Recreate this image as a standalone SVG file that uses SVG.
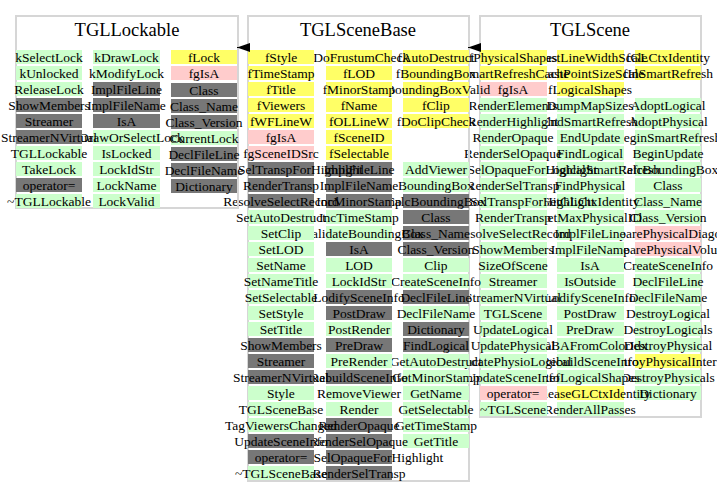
<svg xmlns="http://www.w3.org/2000/svg" width="717" height="496" viewBox="0 0 717 496">
<defs>
<style>
.box{fill:none;stroke:#d6d6d6;stroke-width:2}
.Y{fill:#ffff66}.P{fill:#ffcccc}.G{fill:#ccffcc}.D{fill:#777777}
text{font-family:"Liberation Serif","Times New Roman",serif;fill:#000;text-anchor:middle}
.t{font-size:13.5px}
.h{font-size:18.5px}
</style>
<marker id="inh" markerUnits="userSpaceOnUse" markerWidth="13" markerHeight="9" viewBox="0 0 13 9" refX="13" refY="4.5" orient="auto">
<path d="M0,0 L13,4.5 L0,9 z" fill="#000"/>
</marker>
</defs>
<rect width="717" height="496" fill="#fff"/>

<g id="TGLScene">
<rect class="box" x="480" y="16" width="221" height="401"/>
<text class="h" x="590" y="36">TGLScene</text>
<rect class="Y" x="635" y="50" width="66" height="14"/><text class="t" x="668" y="62">fGLCtxIdentity</text>
<rect class="Y" x="635" y="66" width="66" height="14"/><text class="t" x="668" y="78">fInSmartRefresh</text>
<rect class="G" x="635" y="98" width="66" height="14"/><text class="t" x="668" y="110">AdoptLogical</text>
<rect class="G" x="635" y="114" width="66" height="14"/><text class="t" x="668" y="126">AdoptPhysical</text>
<rect class="G" x="635" y="130" width="66" height="14"/><text class="t" x="668" y="142">BeginSmartRefresh</text>
<rect class="G" x="635" y="146" width="66" height="14"/><text class="t" x="668" y="158">BeginUpdate</text>
<rect class="G" x="635" y="162" width="66" height="14"/><text class="t" x="668" y="174">CalcBoundingBox</text>
<rect class="G" x="635" y="178" width="66" height="14"/><text class="t" x="668" y="190">Class</text>
<rect class="G" x="635" y="194" width="66" height="14"/><text class="t" x="668" y="206">Class_Name</text>
<rect class="G" x="635" y="210" width="66" height="14"/><text class="t" x="668" y="222">Class_Version</text>
<rect class="P" x="635" y="226" width="66" height="14"/><text class="t" x="668" y="238">ComparePhysicalDiagonals</text>
<rect class="P" x="635" y="242" width="66" height="14"/><text class="t" x="668" y="254">ComparePhysicalVolumes</text>
<rect class="G" x="635" y="258" width="66" height="14"/><text class="t" x="668" y="270">CreateSceneInfo</text>
<rect class="G" x="635" y="274" width="66" height="14"/><text class="t" x="668" y="286">DeclFileLine</text>
<rect class="G" x="635" y="290" width="66" height="14"/><text class="t" x="668" y="302">DeclFileName</text>
<rect class="G" x="635" y="306" width="66" height="14"/><text class="t" x="668" y="318">DestroyLogical</text>
<rect class="G" x="635" y="322" width="66" height="14"/><text class="t" x="668" y="334">DestroyLogicals</text>
<rect class="G" x="635" y="338" width="66" height="14"/><text class="t" x="668" y="350">DestroyPhysical</text>
<rect class="Y" x="635" y="354" width="66" height="14"/><text class="t" x="668" y="366">DestroyPhysicalInternal</text>
<rect class="G" x="635" y="370" width="66" height="14"/><text class="t" x="668" y="382">DestroyPhysicals</text>
<rect class="G" x="635" y="386" width="66" height="14"/><text class="t" x="668" y="398">Dictionary</text>

<rect class="Y" x="557" y="50" width="67" height="14"/><text class="t" x="590" y="62">fLastLineWidthScale</text>
<rect class="Y" x="557" y="66" width="67" height="14"/><text class="t" x="590" y="78">fLastPointSizeScale</text>
<rect class="Y" x="557" y="82" width="67" height="14"/><text class="t" x="590" y="94">fLogicalShapes</text>
<rect class="G" x="557" y="98" width="67" height="14"/><text class="t" x="590" y="110">DumpMapSizes</text>
<rect class="G" x="557" y="114" width="67" height="14"/><text class="t" x="590" y="126">EndSmartRefresh</text>
<rect class="G" x="557" y="130" width="67" height="14"/><text class="t" x="590" y="142">EndUpdate</text>
<rect class="G" x="557" y="146" width="67" height="14"/><text class="t" x="590" y="158">FindLogical</text>
<rect class="G" x="557" y="162" width="67" height="14"/><text class="t" x="590" y="174">FindLogicalSmartRefresh</text>
<rect class="G" x="557" y="178" width="67" height="14"/><text class="t" x="590" y="190">FindPhysical</text>
<rect class="G" x="557" y="194" width="67" height="14"/><text class="t" x="590" y="206">GetGLCtxIdentity</text>
<rect class="G" x="557" y="210" width="67" height="14"/><text class="t" x="590" y="222">GetMaxPhysicalID</text>
<rect class="G" x="557" y="226" width="67" height="14"/><text class="t" x="590" y="238">ImplFileLine</text>
<rect class="G" x="557" y="242" width="67" height="14"/><text class="t" x="590" y="254">ImplFileName</text>
<rect class="G" x="557" y="258" width="67" height="14"/><text class="t" x="590" y="270">IsA</text>
<rect class="G" x="557" y="274" width="67" height="14"/><text class="t" x="590" y="286">IsOutside</text>
<rect class="G" x="557" y="290" width="67" height="14"/><text class="t" x="590" y="302">LodifySceneInfo</text>
<rect class="G" x="557" y="306" width="67" height="14"/><text class="t" x="590" y="318">PostDraw</text>
<rect class="G" x="557" y="322" width="67" height="14"/><text class="t" x="590" y="334">PreDraw</text>
<rect class="G" x="557" y="338" width="67" height="14"/><text class="t" x="590" y="350">RGBAFromColorIdx</text>
<rect class="G" x="557" y="354" width="67" height="14"/><text class="t" x="590" y="366">RebuildSceneInfo</text>
<rect class="G" x="557" y="370" width="67" height="14"/><text class="t" x="590" y="382">RefLogicalShapes</text>
<rect class="Y" x="557" y="386" width="67" height="14"/><text class="t" x="590" y="398">ReleaseGLCtxIdentity</text>
<rect class="G" x="557" y="402" width="67" height="14"/><text class="t" x="590" y="414">RenderAllPasses</text>

<rect class="Y" x="480" y="50" width="67" height="14"/><text class="t" x="513" y="62">fPhysicalShapes</text>
<rect class="Y" x="480" y="66" width="67" height="14"/><text class="t" x="513" y="78">fSmartRefreshCache</text>
<rect class="P" x="480" y="82" width="67" height="14"/><text class="t" x="513" y="94">fgIsA</text>
<rect class="G" x="480" y="98" width="67" height="14"/><text class="t" x="513" y="110">RenderElements</text>
<rect class="G" x="480" y="114" width="67" height="14"/><text class="t" x="513" y="126">RenderHighlight</text>
<rect class="G" x="480" y="130" width="67" height="14"/><text class="t" x="513" y="142">RenderOpaque</text>
<rect class="G" x="480" y="146" width="67" height="14"/><text class="t" x="513" y="158">RenderSelOpaque</text>
<rect class="G" x="480" y="162" width="67" height="14"/><text class="t" x="513" y="174">RenderSelOpaqueForHighlight</text>
<rect class="G" x="480" y="178" width="67" height="14"/><text class="t" x="513" y="190">RenderSelTransp</text>
<rect class="G" x="480" y="194" width="67" height="14"/><text class="t" x="513" y="206">RenderSelTranspForHighlight</text>
<rect class="G" x="480" y="210" width="67" height="14"/><text class="t" x="513" y="222">RenderTransp</text>
<rect class="G" x="480" y="226" width="67" height="14"/><text class="t" x="513" y="238">ResolveSelectRecord</text>
<rect class="G" x="480" y="242" width="67" height="14"/><text class="t" x="513" y="254">ShowMembers</text>
<rect class="G" x="480" y="258" width="67" height="14"/><text class="t" x="513" y="270">SizeOfScene</text>
<rect class="G" x="480" y="274" width="67" height="14"/><text class="t" x="513" y="286">Streamer</text>
<rect class="G" x="480" y="290" width="67" height="14"/><text class="t" x="513" y="302">StreamerNVirtual</text>
<rect class="G" x="480" y="306" width="67" height="14"/><text class="t" x="513" y="318">TGLScene</text>
<rect class="G" x="480" y="322" width="67" height="14"/><text class="t" x="513" y="334">UpdateLogical</text>
<rect class="G" x="480" y="338" width="67" height="14"/><text class="t" x="513" y="350">UpdatePhysical</text>
<rect class="G" x="480" y="354" width="67" height="14"/><text class="t" x="513" y="366">UpdatePhysioLogical</text>
<rect class="G" x="480" y="370" width="67" height="14"/><text class="t" x="513" y="382">UpdateSceneInfo</text>
<rect class="P" x="480" y="386" width="67" height="14"/><text class="t" x="513" y="398">operator=</text>
<rect class="G" x="480" y="402" width="67" height="14"/><text class="t" x="513" y="414">~TGLScene</text>
</g>

<g id="TGLSceneBase">
<rect class="box" x="248" y="16" width="221" height="465"/>
<text class="h" x="358" y="36">TGLSceneBase</text>
<rect class="Y" x="403" y="50" width="66" height="14"/><text class="t" x="436" y="62">fAutoDestruct</text>
<rect class="Y" x="403" y="66" width="66" height="14"/><text class="t" x="436" y="78">fBoundingBox</text>
<rect class="Y" x="403" y="82" width="66" height="14"/><text class="t" x="436" y="94">fBoundingBoxValid</text>
<rect class="Y" x="403" y="98" width="66" height="14"/><text class="t" x="436" y="110">fClip</text>
<rect class="Y" x="403" y="114" width="66" height="14"/><text class="t" x="436" y="126">fDoClipCheck</text>
<rect class="G" x="403" y="162" width="66" height="14"/><text class="t" x="436" y="174">AddViewer</text>
<rect class="G" x="403" y="178" width="66" height="14"/><text class="t" x="436" y="190">BoundingBox</text>
<rect class="D" x="403" y="194" width="66" height="14"/><text class="t" x="436" y="206">CalcBoundingBox</text>
<rect class="D" x="403" y="210" width="66" height="14"/><text class="t" x="436" y="222">Class</text>
<rect class="D" x="403" y="226" width="66" height="14"/><text class="t" x="436" y="238">Class_Name</text>
<rect class="D" x="403" y="242" width="66" height="14"/><text class="t" x="436" y="254">Class_Version</text>
<rect class="G" x="403" y="258" width="66" height="14"/><text class="t" x="436" y="270">Clip</text>
<rect class="G" x="403" y="274" width="66" height="14"/><text class="t" x="436" y="286">CreateSceneInfo</text>
<rect class="D" x="403" y="290" width="66" height="14"/><text class="t" x="436" y="302">DeclFileLine</text>
<rect class="G" x="403" y="306" width="66" height="14"/><text class="t" x="436" y="318">DeclFileName</text>
<rect class="D" x="403" y="322" width="66" height="14"/><text class="t" x="436" y="334">Dictionary</text>
<rect class="D" x="403" y="338" width="66" height="14"/><text class="t" x="436" y="350">FindLogical</text>
<rect class="G" x="403" y="354" width="66" height="14"/><text class="t" x="436" y="366">GetAutoDestruct</text>
<rect class="G" x="403" y="370" width="66" height="14"/><text class="t" x="436" y="382">GetMinorStamp</text>
<rect class="G" x="403" y="386" width="66" height="14"/><text class="t" x="436" y="398">GetName</text>
<rect class="G" x="403" y="402" width="66" height="14"/><text class="t" x="436" y="414">GetSelectable</text>
<rect class="G" x="403" y="418" width="66" height="14"/><text class="t" x="436" y="430">GetTimeStamp</text>
<rect class="G" x="403" y="434" width="66" height="14"/><text class="t" x="436" y="446">GetTitle</text>

<rect class="Y" x="326" y="50" width="66" height="14"/><text class="t" x="359" y="62">fDoFrustumCheck</text>
<rect class="Y" x="326" y="66" width="66" height="14"/><text class="t" x="359" y="78">fLOD</text>
<rect class="Y" x="326" y="82" width="66" height="14"/><text class="t" x="359" y="94">fMinorStamp</text>
<rect class="Y" x="326" y="98" width="66" height="14"/><text class="t" x="359" y="110">fName</text>
<rect class="Y" x="326" y="114" width="66" height="14"/><text class="t" x="359" y="126">fOLLineW</text>
<rect class="Y" x="326" y="130" width="66" height="14"/><text class="t" x="359" y="142">fSceneID</text>
<rect class="Y" x="326" y="146" width="66" height="14"/><text class="t" x="359" y="158">fSelectable</text>
<rect class="D" x="326" y="162" width="66" height="14"/><text class="t" x="359" y="174">ImplFileLine</text>
<rect class="D" x="326" y="178" width="66" height="14"/><text class="t" x="359" y="190">ImplFileName</text>
<rect class="D" x="326" y="194" width="66" height="14"/><text class="t" x="359" y="206">IncMinorStamp</text>
<rect class="G" x="326" y="210" width="66" height="14"/><text class="t" x="359" y="222">IncTimeStamp</text>
<rect class="G" x="326" y="226" width="66" height="14"/><text class="t" x="359" y="238">InvalidateBoundingBox</text>
<rect class="D" x="326" y="242" width="66" height="14"/><text class="t" x="359" y="254">IsA</text>
<rect class="G" x="326" y="258" width="66" height="14"/><text class="t" x="359" y="270">LOD</text>
<rect class="G" x="326" y="274" width="66" height="14"/><text class="t" x="359" y="286">LockIdStr</text>
<rect class="D" x="326" y="290" width="66" height="14"/><text class="t" x="359" y="302">LodifySceneInfo</text>
<rect class="D" x="326" y="306" width="66" height="14"/><text class="t" x="359" y="318">PostDraw</text>
<rect class="G" x="326" y="322" width="66" height="14"/><text class="t" x="359" y="334">PostRender</text>
<rect class="D" x="326" y="338" width="66" height="14"/><text class="t" x="359" y="350">PreDraw</text>
<rect class="G" x="326" y="354" width="66" height="14"/><text class="t" x="359" y="366">PreRender</text>
<rect class="D" x="326" y="370" width="66" height="14"/><text class="t" x="359" y="382">RebuildSceneInfo</text>
<rect class="G" x="326" y="386" width="66" height="14"/><text class="t" x="359" y="398">RemoveViewer</text>
<rect class="G" x="326" y="402" width="66" height="14"/><text class="t" x="359" y="414">Render</text>
<rect class="D" x="326" y="418" width="66" height="14"/><text class="t" x="359" y="430">RenderOpaque</text>
<rect class="D" x="326" y="434" width="66" height="14"/><text class="t" x="359" y="446">RenderSelOpaque</text>
<rect class="D" x="326" y="450" width="66" height="14"/><text class="t" x="359" y="462">RenderSelOpaqueForHighlight</text>
<rect class="D" x="326" y="466" width="66" height="14"/><text class="t" x="359" y="478">RenderSelTransp</text>

<rect class="Y" x="248" y="50" width="66" height="14"/><text class="t" x="281" y="62">fStyle</text>
<rect class="Y" x="248" y="66" width="66" height="14"/><text class="t" x="281" y="78">fTimeStamp</text>
<rect class="Y" x="248" y="82" width="66" height="14"/><text class="t" x="281" y="94">fTitle</text>
<rect class="Y" x="248" y="98" width="66" height="14"/><text class="t" x="281" y="110">fViewers</text>
<rect class="Y" x="248" y="114" width="66" height="14"/><text class="t" x="281" y="126">fWFLineW</text>
<rect class="P" x="248" y="130" width="66" height="14"/><text class="t" x="281" y="142">fgIsA</text>
<rect class="P" x="248" y="146" width="66" height="14"/><text class="t" x="281" y="158">fgSceneIDSrc</text>
<rect class="D" x="248" y="162" width="66" height="14"/><text class="t" x="281" y="174">RenderSelTranspForHighlight</text>
<rect class="D" x="248" y="178" width="66" height="14"/><text class="t" x="281" y="190">RenderTransp</text>
<rect class="D" x="248" y="194" width="66" height="14"/><text class="t" x="281" y="206">ResolveSelectRecord</text>
<rect class="G" x="248" y="210" width="66" height="14"/><text class="t" x="281" y="222">SetAutoDestruct</text>
<rect class="G" x="248" y="226" width="66" height="14"/><text class="t" x="281" y="238">SetClip</text>
<rect class="G" x="248" y="242" width="66" height="14"/><text class="t" x="281" y="254">SetLOD</text>
<rect class="G" x="248" y="258" width="66" height="14"/><text class="t" x="281" y="270">SetName</text>
<rect class="G" x="248" y="274" width="66" height="14"/><text class="t" x="281" y="286">SetNameTitle</text>
<rect class="G" x="248" y="290" width="66" height="14"/><text class="t" x="281" y="302">SetSelectable</text>
<rect class="G" x="248" y="306" width="66" height="14"/><text class="t" x="281" y="318">SetStyle</text>
<rect class="G" x="248" y="322" width="66" height="14"/><text class="t" x="281" y="334">SetTitle</text>
<rect class="D" x="248" y="338" width="66" height="14"/><text class="t" x="281" y="350">ShowMembers</text>
<rect class="D" x="248" y="354" width="66" height="14"/><text class="t" x="281" y="366">Streamer</text>
<rect class="D" x="248" y="370" width="66" height="14"/><text class="t" x="281" y="382">StreamerNVirtual</text>
<rect class="G" x="248" y="386" width="66" height="14"/><text class="t" x="281" y="398">Style</text>
<rect class="G" x="248" y="402" width="66" height="14"/><text class="t" x="281" y="414">TGLSceneBase</text>
<rect class="G" x="248" y="418" width="66" height="14"/><text class="t" x="281" y="430">TagViewersChanged</text>
<rect class="D" x="248" y="434" width="66" height="14"/><text class="t" x="281" y="446">UpdateSceneInfo</text>
<rect class="D" x="248" y="450" width="66" height="14"/><text class="t" x="281" y="462">operator=</text>
<rect class="G" x="248" y="466" width="66" height="14"/><text class="t" x="281" y="478">~TGLSceneBase</text>
</g>

<g id="TGLLockable">
<rect class="box" x="16" y="16" width="222" height="192"/>
<text class="h" x="127" y="36">TGLLockable</text>
<rect class="Y" x="171" y="50" width="66" height="14"/><text class="t" x="204" y="62">fLock</text>
<rect class="P" x="171" y="66" width="66" height="14"/><text class="t" x="204" y="78">fgIsA</text>
<rect class="D" x="171" y="83" width="66" height="14"/><text class="t" x="204" y="95">Class</text>
<rect class="D" x="171" y="99" width="66" height="14"/><text class="t" x="204" y="111">Class_Name</text>
<rect class="D" x="171" y="115" width="66" height="14"/><text class="t" x="204" y="127">Class_Version</text>
<rect class="G" x="171" y="131" width="66" height="14"/><text class="t" x="204" y="143">CurrentLock</text>
<rect class="D" x="171" y="147" width="66" height="14"/><text class="t" x="204" y="159">DeclFileLine</text>
<rect class="D" x="171" y="163" width="66" height="14"/><text class="t" x="204" y="175">DeclFileName</text>
<rect class="D" x="171" y="179" width="66" height="14"/><text class="t" x="204" y="191">Dictionary</text>

<rect class="G" x="93" y="50" width="67" height="14"/><text class="t" x="126.5" y="62">kDrawLock</text>
<rect class="G" x="93" y="66" width="67" height="14"/><text class="t" x="126.5" y="78">kModifyLock</text>
<rect class="D" x="93" y="82" width="67" height="14"/><text class="t" x="126.5" y="94">ImplFileLine</text>
<rect class="D" x="93" y="98" width="67" height="14"/><text class="t" x="126.5" y="110">ImplFileName</text>
<rect class="D" x="93" y="114" width="67" height="14"/><text class="t" x="126.5" y="126">IsA</text>
<rect class="G" x="93" y="130" width="67" height="14"/><text class="t" x="126.5" y="142">IsDrawOrSelectLock</text>
<rect class="G" x="93" y="146" width="67" height="14"/><text class="t" x="126.5" y="158">IsLocked</text>
<rect class="G" x="93" y="162" width="67" height="14"/><text class="t" x="126.5" y="174">LockIdStr</text>
<rect class="G" x="93" y="178" width="67" height="14"/><text class="t" x="126.5" y="190">LockName</text>
<rect class="G" x="93" y="194" width="67" height="14"/><text class="t" x="126.5" y="206">LockValid</text>

<rect class="G" x="16" y="50" width="66" height="14"/><text class="t" x="49" y="62">kSelectLock</text>
<rect class="G" x="16" y="66" width="66" height="14"/><text class="t" x="49" y="78">kUnlocked</text>
<rect class="G" x="16" y="82" width="66" height="14"/><text class="t" x="49" y="94">ReleaseLock</text>
<rect class="D" x="16" y="98" width="66" height="14"/><text class="t" x="49" y="110">ShowMembers</text>
<rect class="D" x="16" y="114" width="66" height="14"/><text class="t" x="49" y="126">Streamer</text>
<rect class="D" x="16" y="130" width="66" height="14"/><text class="t" x="49" y="142">StreamerNVirtual</text>
<rect class="G" x="16" y="146" width="66" height="14"/><text class="t" x="49" y="158">TGLLockable</text>
<rect class="G" x="16" y="162" width="66" height="14"/><text class="t" x="49" y="174">TakeLock</text>
<rect class="D" x="16" y="178" width="66" height="14"/><text class="t" x="49" y="190">operator=</text>
<rect class="G" x="16" y="194" width="66" height="14"/><text class="t" x="49" y="206">~TGLLockable</text>
</g>

<g id="connectors" stroke="#000" stroke-width="1">
<path d="M250,47.5 L237,47.5" marker-end="url(#inh)"/>
<path d="M481,47.5 L468,47.5" marker-end="url(#inh)"/>
</g>
</svg>
